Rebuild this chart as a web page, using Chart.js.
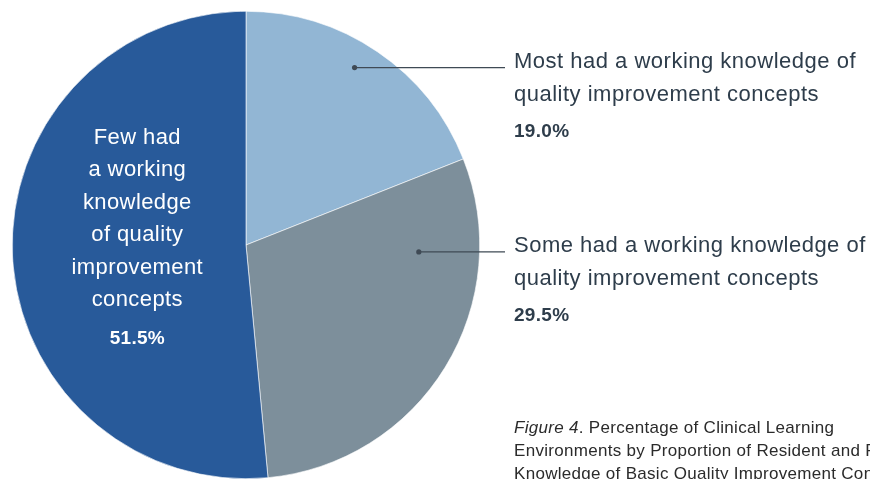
<!DOCTYPE html>
<html>
<head>
<meta charset="utf-8">
<script src="https://cdn.jsdelivr.net/npm/chart.js@4.4.1/dist/chart.umd.min.js"></script>
<style>
  html, body { margin: 0; padding: 0; background: #fff; }
  #wrap { position: relative; width: 870px; height: 479px; overflow: hidden; }
</style>
</head>
<body>
<div id="wrap"><canvas id="pie" width="870" height="479"></canvas></div>
<script>
  // ── Data ─────────────────────────────────────────────────────────────
  const categories = [
    ['Most had a working knowledge of', 'quality improvement concepts'],
    ['Some had a working knowledge of', 'quality improvement concepts'],
    ['Few had', 'a working', 'knowledge', 'of quality', 'improvement', 'concepts'],
  ];
  const shares = [19.0, 29.5, 51.5];
  const captionLines = [
    [{ t: 'Figure 4', it: true }, { t: '. Percentage of Clinical Learning' }],
    [{ t: 'Environments by Proportion of Resident and Fellow' }],
    [{ t: 'Knowledge of Basic Quality Improvement Concepts' }],
  ];

  // ── Style ────────────────────────────────────────────────────────────
  const COLORS = {
    slices: ['#92B6D4', '#7D8F9B', '#285A9A'],
    text: '#2E3D4B',
    leader: '#3F4A55',
    caption: '#2B2B2B',
  };
  const FONT = '"Helvetica Neue", Helvetica, "Liberation Sans", Arial, sans-serif';

  // where each outside label sits and where its leader dot lands inside the slice
  // (sliceFrac = position along the slice's sweep, radFrac = fraction of radius)
  const callouts = [
    { index: 0, x: 514, y: 62, sliceFrac: 0.46, radFrac: 0.89 },
    { index: 1, x: 514, y: 246, sliceFrac: 0.225, radFrac: 0.74 },
  ];
  const LINE_H = 33;

  const labelPlugin = {
    id: 'pieLabels',
    afterDraw(chart) {
      const { ctx } = chart;
      const arcs = chart.getDatasetMeta(0).data;
      ctx.save();

      // outside callouts with leader lines
      callouts.forEach(c => {
        const arc = arcs[c.index];
        const ang = arc.startAngle + (arc.endAngle - arc.startAngle) * c.sliceFrac;
        const r = arc.outerRadius * c.radFrac;
        const px = arc.x + Math.cos(ang) * r;
        const py = arc.y + Math.sin(ang) * r;

        ctx.strokeStyle = COLORS.leader;
        ctx.lineWidth = 1.3;
        ctx.beginPath();
        ctx.moveTo(px, py);
        ctx.lineTo(c.x - 9, py);
        ctx.stroke();
        ctx.fillStyle = COLORS.leader;
        ctx.beginPath();
        ctx.arc(px, py, 2.6, 0, Math.PI * 2);
        ctx.fill();

        ctx.fillStyle = COLORS.text;
        ctx.textAlign = 'left';
        ctx.textBaseline = 'middle';
        ctx.letterSpacing = '0.5px';
        ctx.font = '22px ' + FONT;
        categories[c.index].forEach((line, i) => {
          ctx.fillText(line, c.x, c.y + i * LINE_H);
        });
        ctx.letterSpacing = '0.3px';
        ctx.font = 'bold 19px ' + FONT;
        ctx.fillText(shares[c.index].toFixed(1) + '%',
          c.x, c.y + categories[c.index].length * LINE_H + 4);
      });

      // label inside the large slice
      const big = arcs[2];
      const cx = big.x - big.outerRadius * 0.465;
      const lines = categories[2];
      const top = 138;
      ctx.fillStyle = '#FFFFFF';
      ctx.textAlign = 'center';
      ctx.textBaseline = 'middle';
      ctx.letterSpacing = '0.4px';
      ctx.font = '22px ' + FONT;
      lines.forEach((line, i) => ctx.fillText(line, cx, top + i * 32.4));
      ctx.letterSpacing = '0.3px';
      ctx.font = 'bold 19px ' + FONT;
      ctx.fillText(shares[2].toFixed(1) + '%', cx, top + lines.length * 32.4 + 6);

      // figure caption
      ctx.textAlign = 'left';
      ctx.fillStyle = COLORS.caption;
      ctx.letterSpacing = '0.3px';
      captionLines.forEach((parts, i) => {
        let x = 514;
        parts.forEach(p => {
          ctx.font = (p.it ? 'italic ' : '') + '17px ' + FONT;
          ctx.fillText(p.t, x, 428 + i * 23);
          x += ctx.measureText(p.t).width;
        });
      });
      ctx.restore();
    },
  };

  new Chart(document.getElementById('pie'), {
    type: 'pie',
    data: {
      labels: categories.map(l => l.join(' ')),
      datasets: [{
        data: shares,
        backgroundColor: COLORS.slices,
        borderColor: '#FFFFFF',
        borderWidth: 0.6,
      }],
    },
    options: {
      responsive: false,
      animation: false,
      layout: { padding: { left: 12, right: 390, top: 11, bottom: 0 } },
      plugins: { legend: { display: false }, tooltip: { enabled: false } },
    },
    plugins: [labelPlugin],
  });
</script>
</body>
</html>
